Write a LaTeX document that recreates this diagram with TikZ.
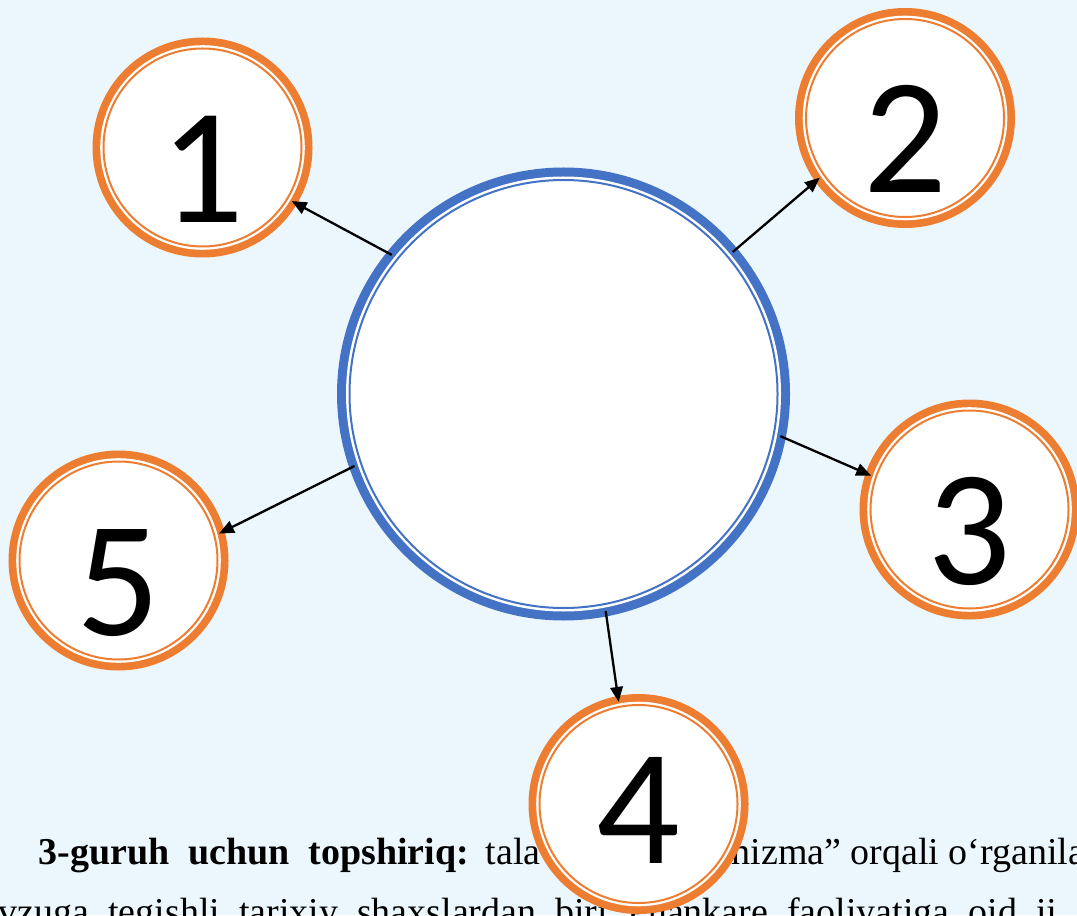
\documentclass[tikz,border=0pt]{standalone}
\usepackage{fontspec}
\setmainfont{Liberation Serif}
\newfontfamily\parafont{Liberation Serif}[WordSpace=2]
\newfontfamily\numfont{Carlito}
\usetikzlibrary{arrows.meta}
\usepackage{xcolor}
\definecolor{ringorange}{RGB}{237,125,49}
\definecolor{hubblue}{RGB}{68,114,196}
\definecolor{paleblue}{RGB}{235,247,252}

\begin{document}
\begin{tikzpicture}[x=.1mm,y=-.1mm,
  hub/.style={circle, minimum size=42.8mm, inner sep=0, outer sep=.7mm,
    fill=white, draw=hubblue, line width=.2mm,
    preaction={draw=hubblue, line width=2.5mm},
    preaction={draw=white, line width=.7mm}},
  ring/.style={circle, minimum size=19.8mm, inner sep=0, outer sep=.5mm,
    fill=white, draw=ringorange, line width=.2mm,
    preaction={draw=ringorange, line width=2.2mm},
    preaction={draw=white, line width=.66mm},
    font=\numfont\fontsize{47pt}{47pt}\selectfont, text height=15mm, text depth=0pt},
  para/.style={anchor=base west, inner sep=0, font=\parafont\fontsize{10.8pt}{13pt}\selectfont},
  link/.style={-{Triangle[length=1.5mm,width=1.25mm]}, line width=.23mm}]
\useasboundingbox (0,0) rectangle (1077,915);
\fill[paleblue] (0,0) rectangle (1077,915);
% text under the diagram
\node[para] (task) at (38,864) {\bfseries 3-guruh uchun topshiriq:};
\node[para] (tala) at (485,864) {tala};
\node[para, font=\fontsize{10.8pt}{13pt}\selectfont] (chizma) at (731,864) {hizma” orqali o‘rganila};
\node[para] (shaxs) at (-2,924) {vzuga tegishli tarixiy shaxslardan biri Puankare faoliyatiga oid ij};
% circles
\node[hub] (hub) at (563.5,394) {};
\foreach \n/\x/\y in {1/202.5/147.5, 2/905/118, 3/969.5/509.5, 5/118.5/560.5}
  \node[ring] (n\n) at (\x,\y) {\n};
\node[ring, text height=11.8mm] (n4) at (638.5,804) {4};
% arrows
\foreach \n/\a/\b in {1/141.7/-31.9, 2/40.7/215.9, 3/-11.6/161.6, 4/-79/101.7, 5/199.5/15.8}
  \draw[link] (hub.\a) -- (n\n.\b);
\end{tikzpicture}
\end{document}
